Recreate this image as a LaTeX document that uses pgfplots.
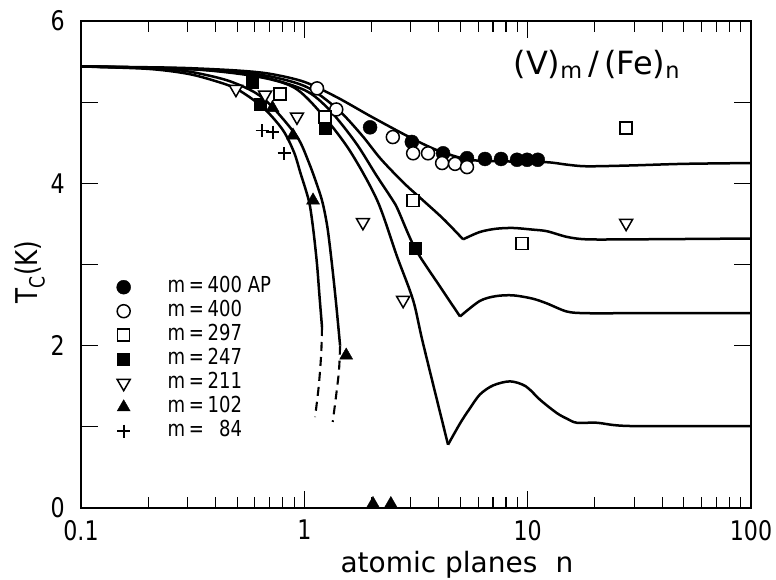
\documentclass[border=0pt]{standalone}
\usepackage{fontspec}
\setmainfont{DejaVu Sans}[FakeStretch=0.82]
\newfontfamily\widefont{DejaVu Sans}
\usepackage{pgfplots}
\pgfplotsset{compat=1.18}

\pgfplotsset{
  curve/.style={black, line width=2.5pt, smooth, no markers},
  tail/.style={black, line width=2.1pt, smooth, no markers, dash pattern=on 9pt off 6pt},
}

\begin{document}
\begin{tikzpicture}
\begin{axis}[
  at={(0,0)}, anchor=south west,
  scale only axis, width=670pt, height=487pt,
  xmode=log, xmin=0.1, xmax=100, ymin=0, ymax=6,
  xtick={0.1,1,10,100}, xticklabels={0.1,1,10,100},
  minor xtick={0.2,0.3,0.4,0.5,0.6,0.7,0.8,0.9,2,3,4,5,6,7,8,9,20,30,40,50,60,70,80,90},
  ytick={0,1,2,3,4,5,6}, yticklabels={0,,2,,4,,6},
  tick align=inside, major tick length=17pt, minor tick length=11pt,
  axis line style={line width=1.8pt},
  tick style={line width=1.2pt, black},
  /pgf/number format/assume math mode=true,
  tick label style={font=\fontsize{27}{27}\selectfont},
  xticklabel style={inner sep=0pt, yshift=-12pt},
  yticklabel style={inner sep=0pt, xshift=-16pt},
  legend style={at={(axis description cs:0.0485,0.4815)}, anchor=north west,
    draw=none, fill=none, font=\fontsize{22}{22}\selectfont,
    row sep=1pt, column sep=36pt,
    nodes={inner sep=1pt, text height=16pt, text depth=5pt}},
  legend cell align=left,
]

% model curves T_c(n) for the different V thicknesses
\addplot[curve, forget plot] coordinates {
  (0.1,5.44) (0.2,5.43) (0.3,5.42) (0.5,5.39) (0.7,5.35) (1.0,5.25) (1.4,5.06)
  (2.0,4.82) (3.0,4.56) (4.0,4.40) (5.5,4.29) (8,4.27) (12.2,4.26) (15,4.23)
  (18.4,4.21) (28.8,4.22) (50,4.24) (100,4.25)};

\addplot[curve, forget plot] coordinates {
  (0.1,5.44) (0.3,5.41) (0.6,5.35) (1.0,5.20) (1.4,4.92) (1.8,4.60) (2.2,4.30)
  (2.8,4.00) (3.4,3.79) (4.2,3.56) (5.14,3.31)};
\addplot[curve, forget plot] coordinates {
  (5.14,3.31) (6.1,3.40) (7.2,3.44) (8.6,3.45) (10.5,3.43) (12.2,3.41) (15,3.34)
  (18.4,3.31) (30,3.31) (100,3.32)};

\addplot[curve, forget plot] coordinates {
  (0.1,5.44) (0.3,5.41) (0.6,5.33) (1.0,5.15) (1.3,4.90) (1.7,4.50) (2.1,4.10)
  (2.49,3.79) (2.63,3.67) (3.13,3.20) (4.0,2.75) (4.98,2.36)};
\addplot[curve, forget plot] coordinates {
  (4.98,2.36) (6.1,2.55) (7.2,2.61) (8.6,2.62) (10.5,2.58) (12.2,2.52) (15,2.42)
  (18.4,2.40) (30,2.40) (100,2.40)};

\addplot[curve, forget plot] coordinates {
  (0.1,5.44) (0.3,5.41) (0.6,5.32) (0.9,5.18) (1.2,4.85) (1.6,4.40) (2.12,3.79)
  (2.6,3.10) (3.07,2.56) (3.40,2.03) (4.40,0.78)};
\addplot[curve, forget plot] coordinates {
  (4.40,0.78) (5.0,1.05) (5.52,1.23) (6.12,1.40) (7.0,1.51) (8.34,1.56) (9.8,1.50)
  (11.4,1.33) (13.5,1.17) (15,1.10) (16.6,1.05) (20.5,1.05) (28.8,1.01) (100,1.01)};

\addplot[curve, forget plot] coordinates {
  (0.1,5.44) (0.2,5.41) (0.3,5.35) (0.4,5.26) (0.5,5.16) (0.65,4.94) (0.8,4.66)
  (0.9,4.38) (0.96,4.13) (1.02,3.90) (1.06,3.72) (1.1,3.40) (1.14,3.00)
  (1.17,2.60) (1.2,2.23)};
\addplot[tail, forget plot] coordinates {(1.2,2.23) (1.19,1.90) (1.16,1.50) (1.117,1.12)};

\addplot[curve, forget plot] coordinates {
  (0.1,5.44) (0.2,5.42) (0.3,5.38) (0.45,5.27) (0.6,5.12) (0.72,4.94) (0.93,4.57)
  (1.05,4.25) (1.15,3.95) (1.21,3.75) (1.27,3.45) (1.33,3.00) (1.39,2.50) (1.446,2.00)};
\addplot[tail, forget plot] coordinates {(1.446,2.0) (1.43,1.70) (1.39,1.40) (1.34,1.06)};

% measured points
\addplot[only marks, mark=*, mark size=7pt, mark options={fill=black, draw=black}] coordinates {
  (1.97,4.69) (3.03,4.51) (4.18,4.37) (5.35,4.31) (6.44,4.30) (7.6,4.30)
  (8.96,4.29) (9.94,4.29) (11.1,4.29)};
\addlegendentry{m\,=\,400 AP}

\addplot[only marks, mark=*, mark size=6.5pt, mark options={fill=white, draw=black, line width=1.5pt}] coordinates {
  (1.14,5.17) (1.39,4.91) (2.49,4.57) (3.07,4.37) (3.58,4.37) (4.14,4.25)
  (4.73,4.24) (5.35,4.20)};
\addlegendentry{m\,=\,400}

\addplot[only marks, mark=square*, mark size=6pt, mark options={fill=white, draw=black, line width=1.5pt}] coordinates {
  (0.778,5.10) (1.24,4.82) (3.07,3.79) (9.44,3.26) (27.6,4.68)};
\addlegendentry{m\,=\,297}

\addplot[only marks, mark=square*, mark size=6pt, mark options={fill=black, draw=black}] coordinates {
  (0.583,5.25) (0.635,4.97) (1.24,4.68) (3.13,3.20)};
\addlegendentry{m\,=\,247}

\addplot[only marks, mark=triangle*, mark size=7.5pt, mark options={fill=white, draw=black, line width=1.5pt, rotate=180}] coordinates {
  (0.494,5.16) (0.667,5.09) (0.927,4.82) (1.83,3.52) (2.77,2.56) (27.6,3.51)};
\addlegendentry{m\,=\,211}

\addplot[only marks, mark=triangle*, mark size=7.5pt, mark options={fill=black, draw=black}] coordinates {
  (0.72,4.93) (0.89,4.59) (1.094,3.79) (1.54,1.88) (2.03,0.05) (2.44,0.05)};
\addlegendentry{m\,=\,102}

\addplot[only marks, mark=+, mark size=6.5pt, mark options={draw=black, line width=1.8pt}] coordinates {
  (0.647,4.65) (0.724,4.63) (0.811,4.37)};
\addlegendentry{m\,=\,\phantom{0}84}
\end{axis}
% titles, placed relative to the lower left corner of the frame
\node[anchor=base west, font=\widefont\fontsize{32}{32}\selectfont] at (429pt,433pt)
  {(V)\textsubscript{m}\,/\,(Fe)\textsubscript{n}};
\node[anchor=base west, font=\widefont\fontsize{28}{28}\selectfont] at (256pt,-65pt)
  {atomic planes};
\node[anchor=base west, font=\widefont\fontsize{28}{28}\selectfont] at (471pt,-65pt) {n};
\node[rotate=90, font=\fontsize{30}{30}\selectfont] at (-51pt,236pt)
  {T\textsubscript{C}(K)};
\pgfresetboundingbox
\path[use as bounding box] (-81pt,-72pt) rectangle (695pt,508pt);
\end{tikzpicture}
\end{document}
